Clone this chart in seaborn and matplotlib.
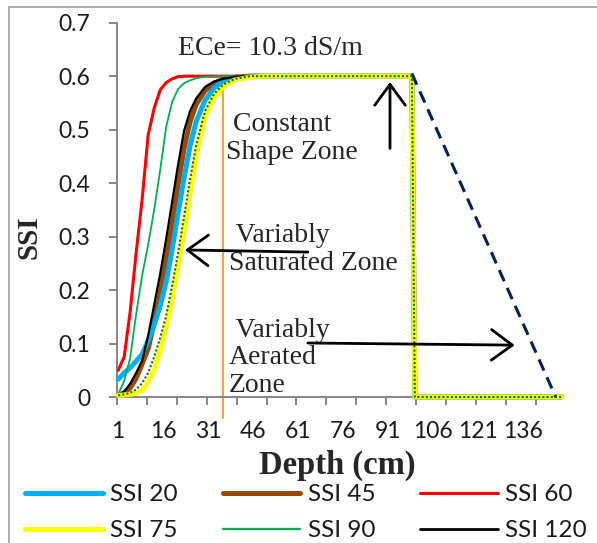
import matplotlib
matplotlib.use("Agg")
import matplotlib.pyplot as plt
import seaborn as sns
import pandas as pd
from matplotlib.lines import Line2D
from matplotlib.ticker import FixedLocator, FuncFormatter

# ---------------- data ----------------
depth = [1, 3, 5, 7, 9, 11, 13, 15, 17, 19, 21, 23, 25, 27, 30, 33, 36, 40, 45, 50, 99, 100, 149]

ssi_20 = [0.033, 0.045, 0.055, 0.067, 0.080, 0.105, 0.135, 0.170, 0.215, 0.275, 0.345, 0.410,
          0.470, 0.515, 0.555, 0.578, 0.590, 0.596, 0.600, 0.600, 0.600, 0.0, 0.0]
ssi_45 = [0.003, 0.008, 0.017, 0.035, 0.062, 0.090, 0.140, 0.195, 0.258, 0.323, 0.398, 0.465,
          0.515, 0.547, 0.573, 0.587, 0.594, 0.598, 0.600, 0.600, 0.600, 0.0, 0.0]
ssi_60 = [0.050, 0.075, 0.160, 0.270, 0.370, 0.490, 0.540, 0.574, 0.588, 0.595, 0.599, 0.600,
          0.600, 0.600, 0.600, 0.600, 0.600, 0.600, 0.600, 0.600, 0.600, 0.0, 0.0]
ssi_75 = [0.003, 0.004, 0.005, 0.007, 0.012, 0.028, 0.050, 0.088, 0.130, 0.185, 0.245, 0.310,
          0.380, 0.450, 0.525, 0.560, 0.580, 0.593, 0.598, 0.600, 0.600, 0.0, 0.0]
ssi_90 = [0.005, 0.030, 0.073, 0.155, 0.228, 0.285, 0.350, 0.424, 0.505, 0.552, 0.576, 0.587,
          0.592, 0.596, 0.599, 0.600, 0.600, 0.600, 0.600, 0.600, 0.600, 0.0, 0.0]
ssi_120 = [0.003, 0.010, 0.025, 0.045, 0.068, 0.115, 0.172, 0.230, 0.295, 0.365, 0.435, 0.498,
           0.535, 0.558, 0.580, 0.590, 0.595, 0.599, 0.600, 0.600, 0.600, 0.0, 0.0]
ssi_dotted = [0.003, 0.005, 0.008, 0.014, 0.026, 0.045, 0.075, 0.110, 0.152, 0.208, 0.270, 0.338,
              0.408, 0.470, 0.535, 0.567, 0.584, 0.595, 0.600, 0.600, 0.600, 0.0, 0.0]

dashed_depth = [99, 147]
dashed_ssi = [0.605, 0.0]

orange_depth = 36
orange_ssi = [0.578, -0.04]

x_tick_labels = [1, 16, 31, 46, 61, 76, 91, 106, 121, 136]
y_ticks = [0, 0.1, 0.2, 0.3, 0.4, 0.5, 0.6, 0.7]

series = [
    ("SSI 45", ssi_45, "#984807", 3.6),
    ("SSI 20", ssi_20, "#00B0F0", 3.6),
    ("SSI 60", ssi_60, "#FF0000", 2.2),
    ("SSI 90", ssi_90, "#00B050", 1.3),
    ("SSI 120", ssi_120, "#000000", 1.6),
    ("SSI 75", ssi_75, "#FFFF00", 3.6),
]

# ---------------- figure ----------------
sns.set_style("white")
plt.rcParams["font.family"] = ["Lato", "DejaVu Sans"]

W, H = 597, 543
fig = plt.figure(figsize=(W / 100, H / 100), dpi=100)
ax = fig.add_axes([116.7 / W, (H - 397) / H, 446.5 / W, 374.3 / H])

handles = {}
for i, (name, vals, col, lw) in enumerate(series):
    df = pd.DataFrame({"depth": depth, "ssi": vals})
    sns.lineplot(data=df, x="depth", y="ssi", ax=ax, color=col, lw=lw,
                 estimator=None, sort=False, legend=False, zorder=3 + i)
    handles[name] = Line2D([], [], color=col, lw=lw if lw > 2 else lw + 0.4)

df_dot = pd.DataFrame({"depth": depth, "ssi": ssi_dotted})
sns.lineplot(data=df_dot, x="depth", y="ssi", ax=ax, color="#0E6B2A", lw=1.5,
             estimator=None, sort=False, legend=False, zorder=10)
ax.lines[-1].set_linestyle((0, (1, 1)))

ax.plot(dashed_depth, dashed_ssi, color="#002060", lw=2.2, dashes=(4, 2.4), zorder=9)
ax.plot([orange_depth, orange_depth], orange_ssi, color="#F0A830", lw=1.5, zorder=2)

for ln in ax.lines:
    ln.set_clip_on(False)

ax.set_xlim(0.5, 149.5)
ax.set_ylim(0, 0.7)
ax.set_xlabel("")
ax.set_ylabel("")

spine_col = "#868686"
for s in ["top", "right"]:
    ax.spines[s].set_visible(False)
for s in ["left", "bottom"]:
    ax.spines[s].set_color(spine_col)
    ax.spines[s].set_linewidth(1.4)

ax.xaxis.set_major_locator(FixedLocator(x_tick_labels))
ax.xaxis.set_minor_locator(FixedLocator([0.5 + 10 * k for k in range(15)]))
ax.tick_params(axis="x", which="major", length=0, pad=17, labelsize=16.5, labelcolor="#1a1a1a")
ax.tick_params(axis="x", which="minor", length=5.5, width=1.4, color=spine_col, direction="out",
               bottom=True)
ax.yaxis.set_major_locator(FixedLocator(y_ticks))
ax.yaxis.set_major_formatter(FuncFormatter(lambda v, p: f"{v:g}"))
ax.tick_params(axis="y", which="major", length=6, width=1.4, color=spine_col, direction="out",
               left=True, pad=13, labelsize=16.5, labelcolor="#1a1a1a")

serif = ["Liberation Serif", "DejaVu Serif"]
tfs = 20

ax.text(21, 0.652, "ECe= 10.3 dS/m", family=serif, fontsize=tfs, ha="left", va="center")
ax.text(37, 0.483, " Constant\nShape Zone", family=serif, fontsize=tfs, ha="left",
        va="center", linespacing=1.15)
ax.text(38, 0.276, " Variably\nSaturated Zone", family=serif, fontsize=tfs, ha="left",
        va="center", linespacing=1.15)
ax.text(38, 0.073, " Variably\nAerated\nZone", family=serif, fontsize=tfs, ha="left",
        va="center", linespacing=1.12)

aprops = dict(arrowstyle="->,head_length=0.75,head_width=0.55", lw=2.0, color="black",
              shrinkA=0, shrinkB=0, mutation_scale=20)
ax.annotate("", xy=(91.7, 0.589), xytext=(91.7, 0.465), arrowprops=aprops, zorder=12)
ax.annotate("", xy=(23.3, 0.275), xytext=(64.3, 0.271), arrowprops=aprops, zorder=12)
ax.annotate("", xy=(133.3, 0.097), xytext=(64.3, 0.101), arrowprops=aprops, zorder=12)

fig.text(29 / W, 1 - 237 / H, "SSI", family=serif, fontweight="bold", fontsize=21,
         rotation=90, ha="center", va="center")
fig.text(337 / W, 1 - 465 / H, "Depth (cm)", family=serif, fontweight="bold", fontsize=23.5,
         ha="center", va="center")

order = ["SSI 20", "SSI 75", "SSI 45", "SSI 90", "SSI 60", "SSI 120"]
fig.legend([handles[k] for k in order], order, loc="upper left",
           bbox_to_anchor=(25 / W, 1 - 484 / H), ncol=3, frameon=False, fontsize=17.5,
           handlelength=3.2, handletextpad=0.3, columnspacing=1.85, labelspacing=0.62,
           borderpad=0, borderaxespad=0, labelcolor="#1a1a1a")

border = "#a6a6a6"
fig.add_artist(Line2D([9 / W, 1], [1 - 7 / H, 1 - 7 / H], color=border, lw=1.3,
                      transform=fig.transFigure))
fig.add_artist(Line2D([9 / W, 9 / W], [0, 1 - 7 / H], color=border, lw=1.3,
                      transform=fig.transFigure))

fig.savefig("out.png", dpi=100)
